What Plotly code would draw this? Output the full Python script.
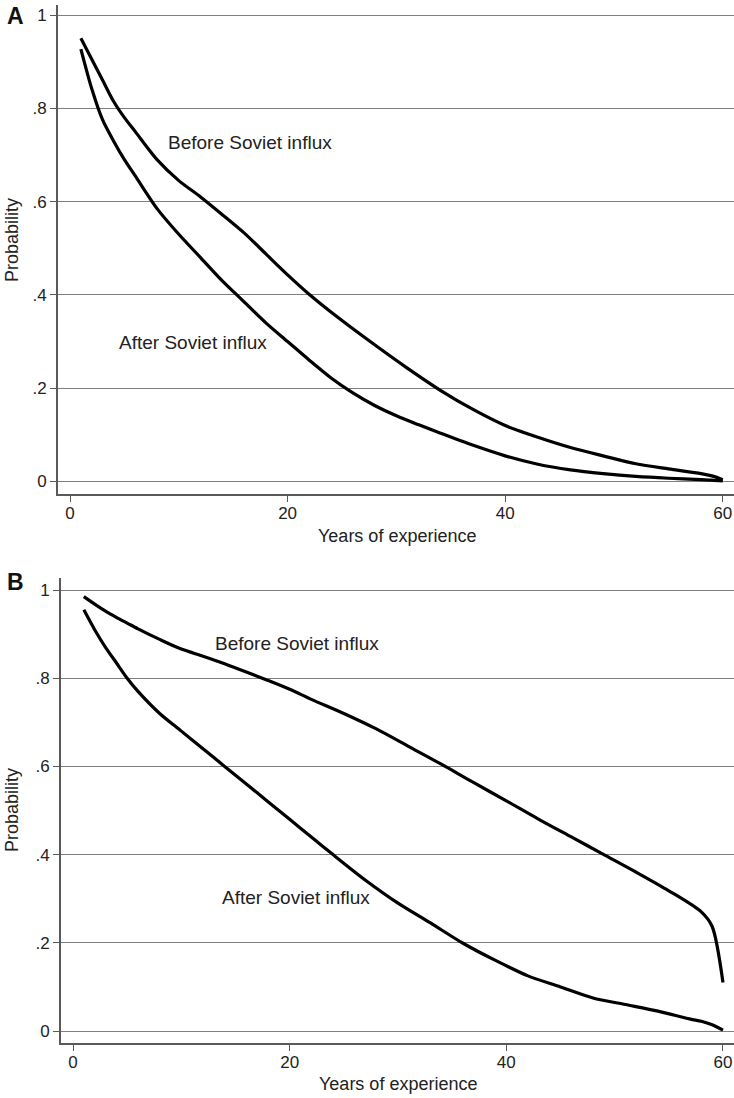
import plotly.graph_objects as go

# ---------------- data ----------------
# Panel A
x_a_before = [1, 2, 3, 4, 5, 6, 8, 10, 12, 14, 16, 18, 20, 22, 25, 28, 31, 34, 37, 40, 43, 46, 49, 52, 55, 58, 59, 60]
before_a = [0.95, 0.905, 0.86, 0.815, 0.78, 0.75, 0.69, 0.645, 0.61, 0.572, 0.533, 0.488, 0.443, 0.401,
            0.345, 0.293, 0.243, 0.196, 0.155, 0.12, 0.095, 0.073, 0.055, 0.038, 0.027, 0.017, 0.012, 0.004]
x_a_after = [1, 2, 3, 4, 5, 6, 8, 10, 12, 14, 16, 18, 20, 22, 24, 26, 28, 30, 32, 34, 37, 40, 43, 46, 49, 52, 55, 58, 59, 60]
after_a = [0.927, 0.842, 0.775, 0.73, 0.69, 0.655, 0.585, 0.53, 0.48, 0.43, 0.385, 0.34, 0.30, 0.26,
           0.222, 0.19, 0.163, 0.141, 0.122, 0.104, 0.078, 0.055, 0.037, 0.025, 0.017, 0.011, 0.007, 0.004, 0.003, 0.001]

# Panel B
x_b_before = [1, 2, 3, 4, 5, 6, 8, 10, 12, 14, 16, 18, 20, 22, 25, 28, 31, 34, 37, 40, 43, 46, 49, 52, 55, 58, 59, 60]
before_b = [0.985, 0.968, 0.952, 0.938, 0.925, 0.912, 0.888, 0.866, 0.85, 0.833, 0.814, 0.795, 0.775, 0.752,
            0.72, 0.685, 0.645, 0.605, 0.563, 0.522, 0.48, 0.44, 0.40, 0.36, 0.318, 0.27, 0.237, 0.11]
x_b_after = [1, 2, 3, 4, 5, 6, 8, 10, 12, 14, 16, 18, 20, 22, 24, 27, 30, 33, 36, 39, 42, 45, 48, 51, 54, 57, 58, 59, 60]
after_b = [0.955, 0.91, 0.87, 0.835, 0.80, 0.77, 0.72, 0.68, 0.64, 0.60, 0.56, 0.52, 0.48, 0.44, 0.40,
           0.342, 0.29, 0.245, 0.199, 0.16, 0.125, 0.10, 0.075, 0.06, 0.045, 0.027, 0.022, 0.014, 0.002]

y_ticks = [0, 0.2, 0.4, 0.6, 0.8, 1]
y_tick_text = ["0", ".2", ".4", ".6", ".8", "1"]
x_ticks = [0, 20, 40, 60]
x_tick_text = ["0", "20", "40", "60"]

label_before = "Before Soviet influx"
label_after = "After Soviet influx"
x_title = "Years of experience"
y_title = "Probability"

# ---------------- figure ----------------
W, H = 734, 1098
FONT = "Liberation Sans, Arial, Helvetica, sans-serif"
TXT = "#222222"

def px(x):
    return min(1.0, max(0.0, x / W))

def py(y):
    return min(1.0, max(0.0, 1 - y / H))

fig = go.Figure()
line_style = dict(color="black", width=3.2, shape="spline", smoothing=0.8)
fig.add_trace(go.Scatter(x=x_a_before, y=before_a, mode="lines", line=line_style, xaxis="x", yaxis="y"))
fig.add_trace(go.Scatter(x=x_a_after, y=after_a, mode="lines", line=line_style, xaxis="x", yaxis="y"))
fig.add_trace(go.Scatter(x=x_b_before, y=before_b, mode="lines", line=line_style, xaxis="x2", yaxis="y2"))
fig.add_trace(go.Scatter(x=x_b_after, y=after_b, mode="lines", line=line_style, xaxis="x2", yaxis="y2"))

axis_common = dict(
    showline=True, linecolor="#5a5a5a", linewidth=1.6,
    ticks="outside", ticklen=6, tickwidth=1.4, tickcolor="#5a5a5a",
    tickfont=dict(family=FONT, size=17, color=TXT),
    zeroline=False,
)

# panel A: y=0 at 481.5px, y=1 at 15px ; axis box 5..494px
ya_top, ya_bot = 5, 494
fig.update_layout(
    width=W, height=H,
    margin=dict(l=0, r=0, t=0, b=0),
    paper_bgcolor="white", plot_bgcolor="white",
    showlegend=False,
    xaxis=dict(domain=[px(58), 1], range=[-12 / 10.88, (734 - 70) / 10.88],
               tickvals=x_ticks, ticktext=x_tick_text, showgrid=False,
               ticklabelstandoff=-3, anchor="y", **axis_common),
    yaxis=dict(domain=[py(ya_bot), py(ya_top)],
               range=[-(ya_bot - 481.5) / 466.5, 1 + (15 - ya_top) / 466.5],
               tickvals=y_ticks, ticktext=y_tick_text, showgrid=True,
               gridcolor="#808080", gridwidth=1.3, anchor="x", **axis_common),
    xaxis2=dict(domain=[px(61), 1], range=[-12 / 10.833, (734 - 73) / 10.833],
                tickvals=x_ticks, ticktext=x_tick_text, showgrid=False,
                ticklabelstandoff=-3, anchor="y2", **axis_common),
    yaxis2=dict(domain=[py(1043), py(578)], range=[-12 / 441, 1 + 12 / 441],
                tickvals=y_ticks, ticktext=y_tick_text, showgrid=True,
                gridcolor="#808080", gridwidth=1.3, anchor="x2", **axis_common),
)

ann_font = dict(family=FONT, size=19, color=TXT)
title_font = dict(family=FONT, size=18, color=TXT)
C = dict(showarrow=False, xanchor="center", yanchor="middle")
annotations = [
    dict(x=16.5, y=0.726, xref="x", yref="y", text=label_before, font=ann_font, **C),
    dict(x=11.35, y=0.297, xref="x", yref="y", text=label_after, font=ann_font, **C),
    dict(x=20.7, y=0.879, xref="x2", yref="y2", text=label_before, font=ann_font, **C),
    dict(x=20.6, y=0.302, xref="x2", yref="y2", text=label_after, font=ann_font, **C),
    # axis titles
    dict(x=px(397), y=py(536), xref="paper", yref="paper", text=x_title, font=title_font, **C),
    dict(x=px(398), y=py(1084), xref="paper", yref="paper", text=x_title, font=title_font, **C),
    dict(x=px(12), y=py(240), xref="paper", yref="paper", text=y_title, textangle=-90, font=title_font, **C),
    dict(x=px(12), y=py(810), xref="paper", yref="paper", text=y_title, textangle=-90, font=title_font, **C),
    # panel labels
    dict(x=px(15), y=py(16), xref="paper", yref="paper", text="<b>A</b>",
         font=dict(family=FONT, size=23, color="#111111"), **C),
    dict(x=px(15), y=py(582), xref="paper", yref="paper", text="<b>B</b>",
         font=dict(family=FONT, size=23, color="#111111"), **C),
]
fig.update_layout(annotations=annotations)

# remove the default page margin so the figure fills the window exactly
fig.write_html("out.html",
               config={"displayModeBar": False},
               post_script="document.body.style.margin='0';document.body.style.overflow='hidden';")
